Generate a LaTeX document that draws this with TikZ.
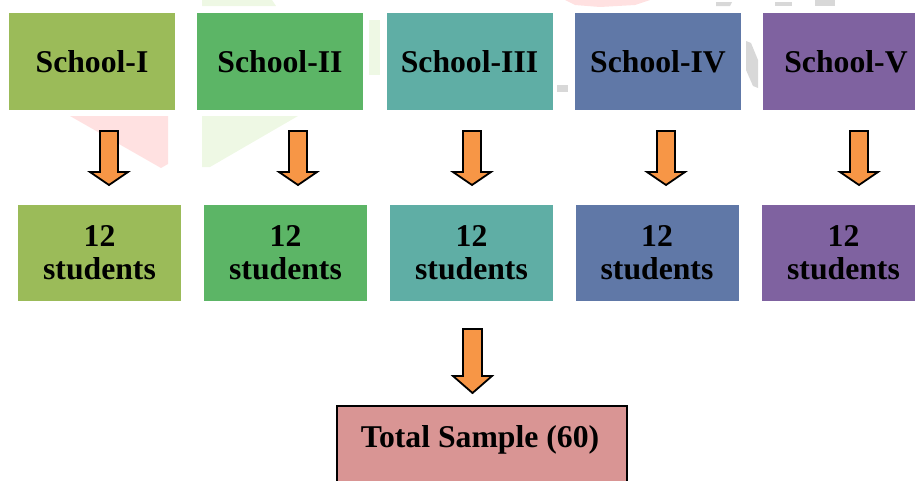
\documentclass[tikz,border=0pt]{standalone}
\usepackage{fontspec}
\setmainfont{Liberation Serif}
\begin{document}
\begin{tikzpicture}[x=1pt,y=-1pt,
  box/.style={rectangle,inner sep=0pt,font=\bfseries\fontsize{31.7}{33}\selectfont,align=center,text=black},
  topbox/.style={box,minimum width=166pt,minimum height=97pt},
  lowbox/.style={box,minimum width=163pt,minimum height=96pt},
  blockarrow/.style={fill=arrowor,draw=black,line width=1.8pt,line join=miter},
  wm/.style={draw=none}
]
\definecolor{cA}{HTML}{9BBB59}
\definecolor{cB}{HTML}{5CB566}
\definecolor{cC}{HTML}{5FAEA5}
\definecolor{cD}{HTML}{6078A7}
\definecolor{cE}{HTML}{7F62A0}
\definecolor{cT}{HTML}{D99594}
\definecolor{arrowor}{HTML}{F79646}
\definecolor{wmpink}{HTML}{FFE1E1}
\definecolor{wmgreen}{HTML}{EEF8E4}
\definecolor{wmgray}{HTML}{D8D8D8}
\useasboundingbox (0,0) rectangle (915,480);
% faint watermark fragments
\fill[wmpink] (70,116) -- (168,116) -- (168,164) -- (161,168) -- cycle;
\fill[wmgreen] (202,116) -- (298,116) -- (210,167) -- (202,167) -- cycle;
\fill[wmgreen] (202,0) -- (272,0) -- (276,6) -- (202,6) -- cycle;
\fill[wmgreen] (369,20) -- (380,20) -- (380,75) -- (369,75) -- cycle;
\fill[wmpink] (565,0) -- (650,0) -- (635,5) -- (600,7) -- (575,5) -- cycle;
\fill[wmgray] (746,41) -- (751,43) -- (758,60) -- (758,88) -- (753,86) -- (746,70) -- cycle;
\fill[wmgray] (557,85) -- (568,85) -- (568,92) -- (557,92) -- cycle;
\fill[wmgray] (716,2) -- (732,2) -- (730,6) -- (716,6) -- cycle;
\fill[wmgray] (775,2) -- (792,2) -- (792,6) -- (775,6) -- cycle;
\fill[wmgray] (815,0) -- (835,0) -- (835,6) -- (815,6) -- cycle;
% top boxes
\node[topbox,fill=cA] (s1) at (92,61.5) {School-I};
\node[topbox,fill=cB] (s2) at (280,61.5) {School-II};
\node[topbox,fill=cC] (s3) at (469.5,61.5) {School-III};
\node[topbox,fill=cD] (s4) at (658,61.5) {School-IV};
\node[topbox,fill=cE] (s5) at (846,61.5) {School-V};
% bottom boxes
\node[lowbox,fill=cA] (n1) at (99.5,253) {12\\students};
\node[lowbox,fill=cB] (n2) at (285.5,253) {12\\students};
\node[lowbox,fill=cC] (n3) at (471.5,253) {12\\students};
\node[lowbox,fill=cD] (n4) at (657,253) {12\\students};
\node[lowbox,fill=cE] (n5) at (843.5,253) {12\\students};
% block arrows
\foreach \cx in {109,298,472,666,859}{
  \draw[blockarrow] (\cx-9,131) -- (\cx+9,131) -- (\cx+9,172) -- (\cx+19,172) -- (\cx,185) -- (\cx-19,172) -- (\cx-9,172) -- cycle;
}
\draw[blockarrow] (463,329) -- (482,329) -- (482,376) -- (492,376) -- (472.5,393) -- (453,376) -- (463,376) -- cycle;
% total box
\draw[fill=cT,draw=black,line width=1.5pt] (337,406) rectangle (627,490);
\node[box,anchor=base] (tot) at (480,447) {Total Sample (60)};
\end{tikzpicture}
\end{document}
